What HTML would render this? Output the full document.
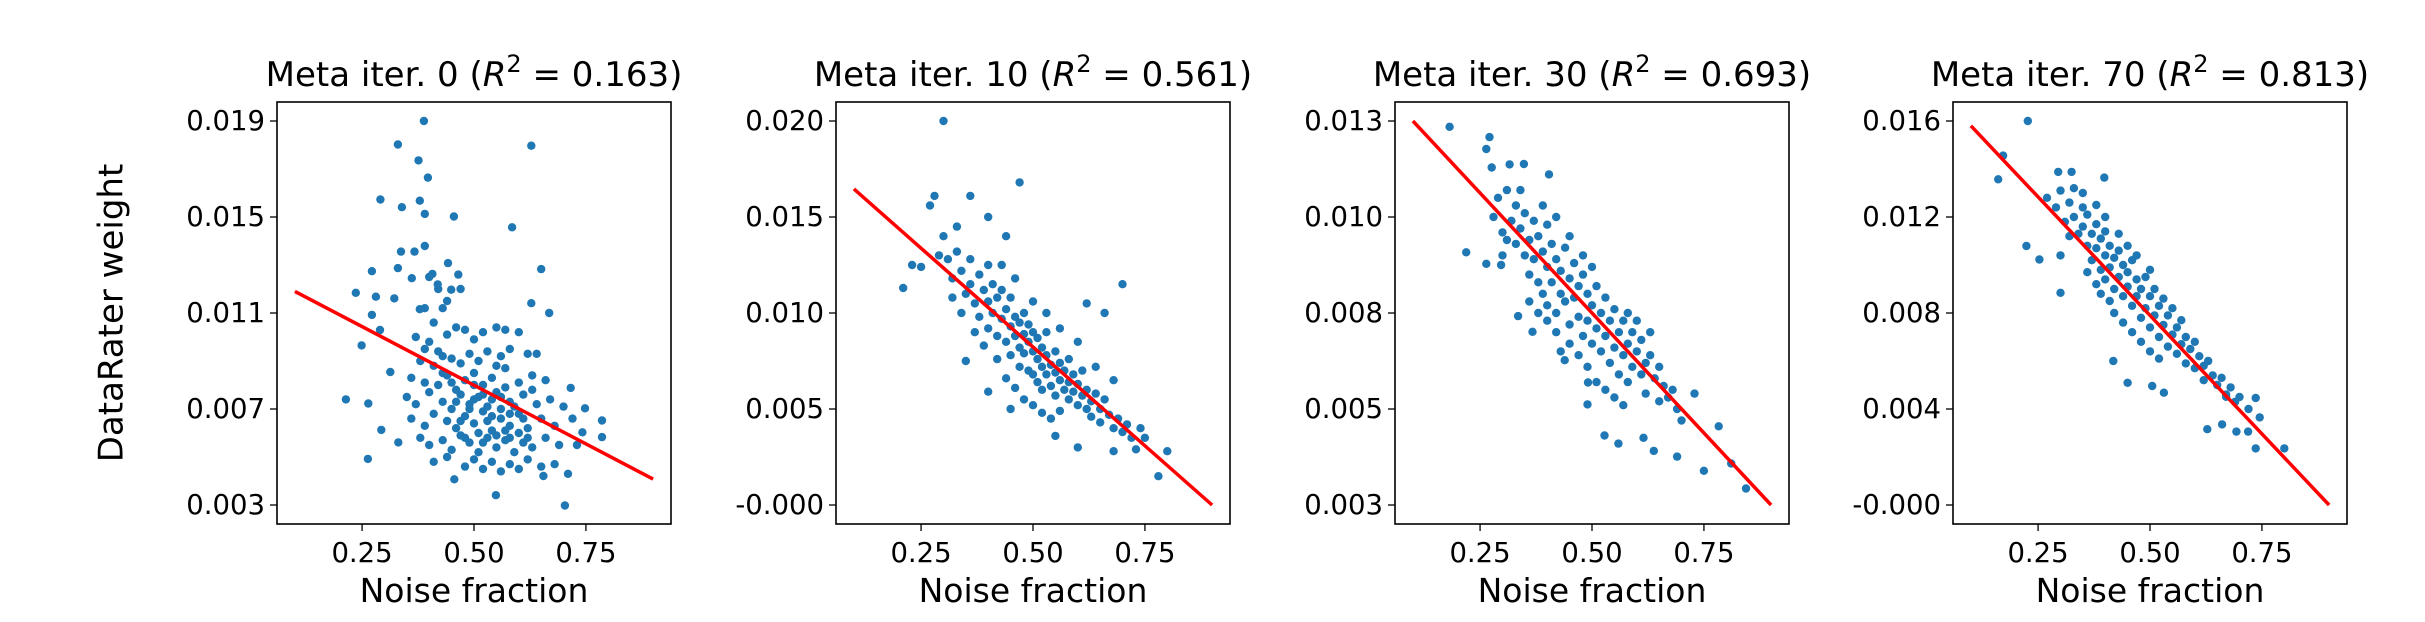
<!DOCTYPE html>
<html><head><meta charset="utf-8"><style>
html,body{margin:0;padding:0;background:#fff;}
svg{display:block;font-family:"DejaVu Sans","Liberation Sans",sans-serif;}
</style></head><body>
<svg id="fig" width="2425" height="622" viewBox="0 0 2425 622" xmlns="http://www.w3.org/2000/svg">
<rect width="2425" height="622" fill="#fff"/>
<text x="113" y="313" font-size="34" text-anchor="middle" dominant-baseline="middle" transform="rotate(-90 113 313)">DataRater weight</text>
</svg>
<script>
const titles=["Meta iter. 0","Meta iter. 10","Meta iter. 30","Meta iter. 70"];
const r2Values=["0.163","0.561","0.693","0.813"];
const yTicksP1=[0.019,0.015,0.011,0.007,0.003];
const yTicksP2=[0.020,0.015,0.010,0.005,0.000];
const yTicksP3=[0.013,0.0105,0.008,0.0055,0.003];
const yTicksP4=[0.016,0.012,0.008,0.004,0.000];
const yLabelsP1=["0.019","0.015","0.011","0.007","0.003"];
const yLabelsP2=["0.020","0.015","0.010","0.005","-0.000"];
const yLabelsP3=["0.013","0.010","0.008","0.005","0.003"];
const yLabelsP4=["0.016","0.012","0.008","0.004","-0.000"];
const xTicks=[0.25,0.5,0.75];
const xTickLabels=["0.25","0.50","0.75"];
const fitX=[0.1,0.9];
const fitP1=[0.0119,0.00408];
const fitP2=[0.01646,0.0];
const fitP3=[0.0130,0.0030];
const fitP4=[0.0158,0.0];
const pointsP1=[[0.388,0.019],[0.33,0.01802],[0.628,0.01797],[0.376,0.01736],[0.397,0.01664],[0.291,0.01573],[0.339,0.01541],[0.379,0.01568],[0.39,0.01513],[0.455,0.01502],[0.585,0.01457],[0.337,0.01356],[0.367,0.01356],[0.39,0.01379],[0.442,0.01308],[0.272,0.01274],[0.33,0.01287],[0.65,0.01283],[0.407,0.01263],[0.361,0.01245],[0.465,0.0126],[0.236,0.01184],[0.281,0.01168],[0.322,0.01161],[0.419,0.01219],[0.449,0.01197],[0.628,0.01141],[0.379,0.01116],[0.668,0.011],[0.272,0.01092],[0.29,0.01029],[0.249,0.00965],[0.313,0.00854],[0.214,0.0074],[0.264,0.00723],[0.263,0.00492],[0.293,0.00613],[0.331,0.00561],[0.456,0.00407],[0.549,0.00341],[0.703,0.00298],[0.786,0.00652],[0.786,0.00583],[0.716,0.00788],[0.748,0.00703],[0.742,0.00603],[0.655,0.00421],
[0.40,0.0098],[0.42,0.0094],[0.44,0.0101],[0.46,0.0104],[0.48,0.0103],[0.50,0.0099],[0.52,0.0102],[0.55,0.0104],[0.57,0.0103],[0.60,0.0102],[0.38,0.0090],[0.41,0.0088],[0.43,0.0085],[0.45,0.0091],[0.47,0.0089],[0.49,0.0093],[0.51,0.0090],[0.53,0.0094],[0.56,0.0092],[0.58,0.0095],[0.62,0.0093],[0.64,0.0093],[0.36,0.0083],[0.39,0.0081],[0.42,0.0080],[0.44,0.0084],[0.46,0.0078],[0.48,0.0082],[0.50,0.0085],[0.52,0.0080],[0.54,0.0083],[0.57,0.0079],[0.60,0.0081],[0.63,0.0084],[0.66,0.0082],[0.35,0.0075],[0.37,0.0072],[0.40,0.0077],[0.43,0.0073],[0.45,0.0070],[0.47,0.0076],[0.49,0.0072],[0.51,0.0075],[0.53,0.0071],[0.55,0.0077],[0.58,0.0073],[0.61,0.0076],[0.64,0.0072],[0.67,0.0074],[0.70,0.0071],[0.36,0.0066],[0.39,0.0063],[0.41,0.0068],[0.44,0.0065],[0.46,0.0062],[0.48,0.0067],[0.50,0.0064],[0.52,0.0069],[0.54,0.0061],[0.56,0.0066],[0.58,0.0063],[0.60,0.0068],[0.62,0.0062],[0.65,0.0066],[0.68,0.0063],[0.72,0.0066],[0.38,0.0058],[0.40,0.0055],[0.43,0.0057],[0.45,0.0053],[0.47,0.0059],[0.49,0.0056],[0.51,0.0052],[0.53,0.0058],[0.55,0.0054],[0.57,0.0057],[0.59,0.0052],[0.61,0.0056],[0.63,0.0054],[0.66,0.0058],[0.69,0.0055],[0.73,0.0055],[0.41,0.0048],[0.44,0.0050],[0.48,0.0046],[0.50,0.0049],[0.52,0.0045],[0.54,0.0048],[0.56,0.0044],[0.58,0.0047],[0.60,0.0045],[0.62,0.0049],[0.65,0.0046],[0.68,0.0047],[0.71,0.0043],[0.50,0.0080],[0.52,0.0076],[0.54,0.0074],[0.56,0.0070],[0.58,0.0068],[0.49,0.0070],[0.51,0.0060],[0.53,0.0065],[0.55,0.0059],[0.57,0.0061],[0.59,0.0071],[0.61,0.0066],[0.46,0.0073],[0.47,0.0065],[0.48,0.0058],[0.50,0.0074],[0.52,0.0056],[0.54,0.0067],[0.56,0.0075],[0.58,0.0058],[0.60,0.0060],[0.62,0.0058],[0.63,0.0078],[0.57,0.0087],[0.55,0.0088],[0.45,0.0081],[0.43,0.0092],[0.39,0.0095],[0.37,0.0100],[0.41,0.0106],[0.39,0.0112],[0.40,0.0125],[0.42,0.0120],[0.44,0.0115],[0.47,0.0120],[0.43,0.0112]];
const pointsP2=[[0.30,0.0200],[0.47,0.0168],[0.36,0.0161],[0.28,0.0161],[0.27,0.0156],[0.21,0.0113],[0.25,0.0124],[0.23,0.0125],[0.33,0.0145],[0.40,0.0150],[0.44,0.0140],[0.70,0.0115],[0.66,0.0100],[0.62,0.0105],[0.78,0.0015],[0.75,0.0035],[0.73,0.0029],[0.80,0.0028],[0.68,0.0028],[0.60,0.0030],[0.55,0.0036],[0.35,0.0075],[0.40,0.0059],[0.45,0.0050],
[0.30,0.0140],[0.31,0.0128],[0.32,0.0118],[0.33,0.0132],[0.34,0.0122],[0.35,0.0110],[0.36,0.0128],[0.36,0.0115],[0.37,0.0105],[0.38,0.0120],[0.38,0.0098],[0.39,0.0112],[0.40,0.0125],[0.40,0.0106],[0.40,0.0092],[0.41,0.0100],[0.41,0.0115],[0.42,0.0108],[0.42,0.0088],[0.43,0.0097],[0.43,0.0112],[0.44,0.0085],[0.44,0.0102],[0.45,0.0093],[0.45,0.0108],[0.45,0.0078],[0.46,0.0098],[0.46,0.0088],[0.47,0.0082],[0.47,0.0095],[0.47,0.0072],[0.48,0.0089],[0.48,0.0100],[0.48,0.0079],[0.49,0.0085],[0.49,0.0070],[0.49,0.0094],[0.50,0.0080],[0.50,0.0090],[0.50,0.0068],[0.51,0.0076],[0.51,0.0087],[0.51,0.0064],[0.52,0.0082],[0.52,0.0072],[0.52,0.0060],[0.53,0.0078],[0.53,0.0068],[0.53,0.0090],[0.54,0.0073],[0.54,0.0062],[0.55,0.0069],[0.55,0.0080],[0.55,0.0057],[0.56,0.0065],[0.56,0.0074],[0.57,0.0060],[0.57,0.0070],[0.58,0.0064],[0.58,0.0055],[0.58,0.0076],[0.59,0.0059],[0.59,0.0068],[0.60,0.0052],[0.60,0.0063],[0.61,0.0057],[0.61,0.0070],[0.62,0.0050],[0.62,0.0060],[0.63,0.0054],[0.63,0.0046],[0.64,0.0058],[0.65,0.0050],[0.65,0.0043],[0.66,0.0055],[0.67,0.0047],[0.68,0.0040],[0.69,0.0045],[0.70,0.0038],[0.71,0.0042],[0.72,0.0035],[0.74,0.0040],[0.37,0.0090],[0.39,0.0083],[0.42,0.0076],[0.44,0.0066],[0.46,0.0061],[0.48,0.0055],[0.50,0.0052],[0.52,0.0048],[0.54,0.0045],[0.56,0.0049],[0.34,0.0100],[0.32,0.0108],[0.29,0.0130],[0.43,0.0125],[0.46,0.0118],[0.50,0.0106],[0.53,0.0100],[0.56,0.0092],[0.60,0.0085],[0.64,0.0072],[0.68,0.0065]];
const pointsP3=[[0.182,0.01285],[0.271,0.01258],[0.264,0.01227],[0.276,0.01179],[0.219,0.00958],[0.264,0.00928],[0.297,0.00925],[0.335,0.00792],[0.367,0.00751],[0.439,0.00677],[0.491,0.00619],[0.49,0.00562],[0.528,0.00481],[0.559,0.0046],[0.615,0.00475],[0.638,0.00441],[0.69,0.00426],[0.75,0.00389],[0.811,0.00408],[0.844,0.00343],[0.783,0.00505],[0.729,0.0059],[0.404,0.01161],[0.316,0.01187],[0.348,0.01188],
[0.28,0.0105],[0.29,0.0110],[0.30,0.0101],[0.31,0.0112],[0.32,0.0104],[0.33,0.0098],[0.33,0.0108],[0.34,0.0102],[0.35,0.0095],[0.35,0.0106],[0.36,0.0099],[0.36,0.0090],[0.37,0.0104],[0.37,0.0094],[0.38,0.0100],[0.38,0.0088],[0.39,0.0096],[0.39,0.0085],[0.40,0.0103],[0.40,0.0092],[0.40,0.0082],[0.41,0.0098],[0.41,0.0088],[0.42,0.0094],[0.42,0.0080],[0.43,0.0091],[0.43,0.0085],[0.44,0.0097],[0.44,0.0083],[0.45,0.0089],[0.45,0.0077],[0.46,0.0093],[0.46,0.0084],[0.47,0.0087],[0.47,0.0079],[0.48,0.0090],[0.48,0.0074],[0.49,0.0085],[0.49,0.0078],[0.50,0.0082],[0.50,0.0072],[0.51,0.0087],[0.51,0.0076],[0.52,0.0080],[0.52,0.0070],[0.53,0.0084],[0.53,0.0074],[0.54,0.0078],[0.54,0.0067],[0.55,0.0081],[0.55,0.0071],[0.56,0.0075],[0.56,0.0064],[0.57,0.0078],[0.57,0.0069],[0.58,0.0072],[0.58,0.0062],[0.59,0.0075],[0.59,0.0066],[0.60,0.0070],[0.61,0.0064],[0.61,0.0073],[0.62,0.0067],[0.62,0.0059],[0.63,0.0069],[0.64,0.0063],[0.65,0.0066],[0.65,0.0057],[0.66,0.0061],[0.67,0.0058],[0.68,0.0060],[0.69,0.0055],[0.70,0.0052],[0.45,0.0072],[0.47,0.0069],[0.49,0.0066],[0.51,0.0062],[0.53,0.0060],[0.55,0.0058],[0.57,0.0056],[0.40,0.0078],[0.42,0.0075],[0.43,0.0070],[0.38,0.0080],[0.36,0.0083],[0.48,0.0095],[0.50,0.0092],[0.45,0.0100],[0.42,0.0105],[0.39,0.0108],[0.34,0.0112],[0.31,0.0099],[0.30,0.0095],[0.63,0.0075],[0.60,0.0078],[0.58,0.0080]];
const pointsP4=[[0.227,0.016],[0.172,0.01456],[0.161,0.01357],[0.224,0.01079],[0.253,0.01023],[0.30,0.00884],[0.398,0.01364],[0.295,0.01388],[0.325,0.01388],[0.418,0.006],[0.45,0.00509],[0.505,0.00496],[0.531,0.00468],[0.628,0.00316],[0.661,0.00336],[0.693,0.00306],[0.719,0.00306],[0.736,0.00236],[0.80,0.00236],[0.745,0.00365],[0.736,0.00446],[0.67,0.00451],
[0.27,0.0128],[0.29,0.0124],[0.30,0.0131],[0.31,0.0118],[0.32,0.0126],[0.33,0.0120],[0.33,0.0132],[0.34,0.0113],[0.35,0.0124],[0.35,0.0116],[0.36,0.0108],[0.36,0.0121],[0.37,0.0113],[0.37,0.0102],[0.38,0.0117],[0.38,0.0107],[0.39,0.0111],[0.39,0.0098],[0.40,0.0114],[0.40,0.0104],[0.40,0.0094],[0.41,0.0108],[0.41,0.0099],[0.42,0.0103],[0.42,0.0090],[0.43,0.0106],[0.43,0.0095],[0.44,0.0100],[0.44,0.0087],[0.45,0.0097],[0.45,0.0091],[0.46,0.0102],[0.46,0.0083],[0.47,0.0094],[0.47,0.0087],[0.48,0.0090],[0.48,0.0078],[0.49,0.0095],[0.49,0.0082],[0.50,0.0087],[0.50,0.0074],[0.51,0.0090],[0.51,0.0079],[0.52,0.0083],[0.52,0.0070],[0.53,0.0086],[0.53,0.0075],[0.54,0.0079],[0.54,0.0066],[0.55,0.0082],[0.55,0.0071],[0.56,0.0074],[0.56,0.0063],[0.57,0.0077],[0.57,0.0067],[0.58,0.0070],[0.58,0.0059],[0.59,0.0065],[0.60,0.0068],[0.60,0.0057],[0.61,0.0062],[0.62,0.0058],[0.62,0.0052],[0.63,0.0060],[0.64,0.0054],[0.65,0.0050],[0.66,0.0053],[0.67,0.0046],[0.68,0.0049],[0.69,0.0043],[0.70,0.0045],[0.72,0.0040],[0.42,0.0080],[0.44,0.0076],[0.46,0.0072],[0.48,0.0068],[0.50,0.0064],[0.52,0.0061],[0.41,0.0085],[0.39,0.0088],[0.38,0.0092],[0.36,0.0097],[0.43,0.0113],[0.45,0.0108],[0.47,0.0104],[0.50,0.0098],[0.40,0.0120],[0.38,0.0125],[0.35,0.0130],[0.32,0.0112],[0.30,0.0104]];

const NS="http://www.w3.org/2000/svg";
const svg=document.getElementById('fig');
const panelLefts=[277,836,1395,1953];
const W=394, TOP=102, BOT=524, TICKTOP=121, TICKBOT=505;
const XMIN=0.06, XMAX=0.94;
const allTicks=[yTicksP1,yTicksP2,yTicksP3,yTicksP4];
const allLabels=[yLabelsP1,yLabelsP2,yLabelsP3,yLabelsP4];
const allFits=[fitP1,fitP2,fitP3,fitP4];
const allPoints=[pointsP1,pointsP2,pointsP3,pointsP4];
function mk(tag,attrs,parent){const e=document.createElementNS(NS,tag);for(const k in attrs)e.setAttribute(k,attrs[k]);(parent||svg).appendChild(e);return e;}

for(let p=0;p<4;p++){
  const L=panelLefts[p];
  const ticks=allTicks[p];
  const t0=ticks[0], t4=ticks[ticks.length-1];
  const xs=v=>L+(v-XMIN)/(XMAX-XMIN)*W;
  const ys=v=>TICKTOP+(t0-v)/(t0-t4)*(TICKBOT-TICKTOP);
  const g=mk('g',{});
  
  
  const pg=mk('g',{fill:'#1f77b4'},g);
  
  
  allPoints[p].forEach(pt=>{
    const c=mk('circle',{cx:xs(pt[0]).toFixed(1),cy:ys(pt[1]).toFixed(1),r:4.2},pg);
    
    
  });
  const fl=mk('line',{x1:xs(fitX[0]),y1:ys(allFits[p][0]),x2:xs(fitX[1]),y2:ys(allFits[p][1]),stroke:'#ff0000','stroke-width':3.5},g);
  
  
  const fr=mk('rect',{x:L,y:TOP,width:W,height:BOT-TOP,fill:'none',stroke:'#000','stroke-width':1.6},g);
  
  
  ticks.forEach((t,i)=>{
    const y=ys(t);
    const tl=mk('line',{x1:L-7,y1:y,x2:L,y2:y,stroke:'#000','stroke-width':1.3},g);
    
    
    const tx=mk('text',{x:L-12,y:y,'font-size':27.5,'text-anchor':'end','dominant-baseline':'central'},g);
    tx.textContent=allLabels[p][i];
    
    
  });
  xTicks.forEach((t,i)=>{
    const x=xs(t);
    const tl=mk('line',{x1:x,y1:BOT,x2:x,y2:BOT+7,stroke:'#000','stroke-width':1.3},g);
    
    
    const tx=mk('text',{x:x,y:BOT+38,'font-size':27.5,'text-anchor':'middle'},g);
    tx.textContent=xTickLabels[i];
    
    
  });
  const xl=mk('text',{x:L+W/2,y:BOT+78,'font-size':33,'text-anchor':'middle'},g);
  xl.textContent='Noise fraction';
  
  
  const tt=mk('text',{x:L+W/2,y:86,'font-size':34,'text-anchor':'middle'},g);
  
  
  const s1=mk('tspan',{},tt); s1.textContent=titles[p]+' (';
  const s2=mk('tspan',{'font-style':'italic'},tt); s2.textContent='R';
  const s3=mk('tspan',{dy:-14,'font-size':24},tt); s3.textContent='2';
  const s4=mk('tspan',{dy:14},tt); s4.textContent=' = '+r2Values[p]+')';
}
</script>
</body></html>
